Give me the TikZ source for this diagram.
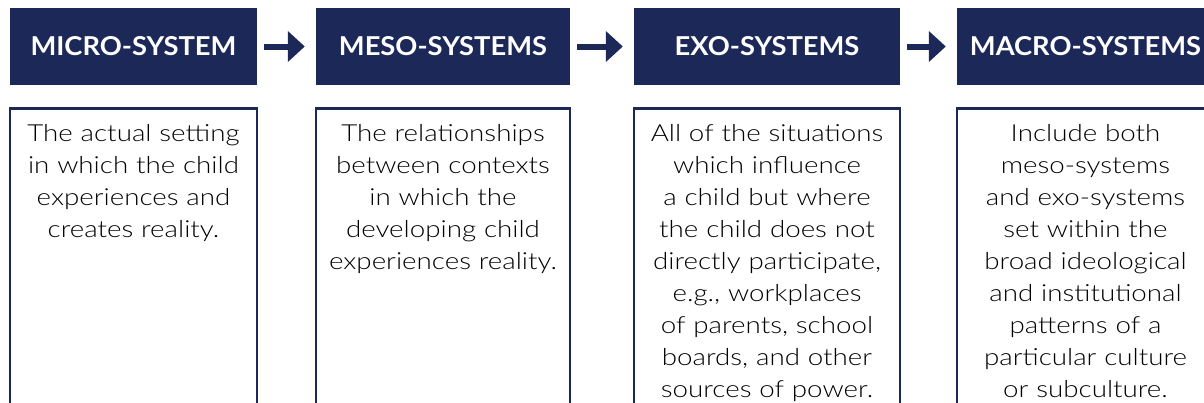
\documentclass[tikz,border=0pt]{standalone}
\usepackage{fontspec}
\setmainfont{Lato}[UprightFont=* Light,BoldFont=* Bold,FakeStretch=1.18]
\newfontfamily\headfont{Lato}[UprightFont=* Bold,FakeStretch=1.05]
\usepackage{tikz}
\usetikzlibrary{arrows.meta}
\definecolor{navy}{RGB}{28,40,88}

\begin{document}
\begin{tikzpicture}[x=1pt,y=1pt,
  head/.style={fill=navy,text=white,font=\headfont\fontsize{26}{30}\selectfont,minimum height=77pt,inner sep=0pt},
  body/.style={draw=navy,line width=2.5pt,anchor=north,align=center,inner xsep=6pt,inner ysep=16pt,text depth=330pt,font=\fontsize{23.5}{32}\selectfont},
  link/.style={draw=navy,line width=6pt,-{Triangle[width=30pt,length=17pt]},shorten <=7pt,shorten >=11pt}]
\useasboundingbox (0,0) rectangle (1204,-402);
\node[head,minimum width=247pt](micro) at (133.5,-46.5){MICRO-SYSTEM};
\node[head,minimum width=254pt](meso) at (443,-46.5){MESO-SYSTEMS};
\node[head,minimum width=266pt](exo) at (767,-46.5){EXO-SYSTEMS};
\node[head,minimum width=257pt](macro) at (1085.5,-46.5){MACRO-SYSTEMS};
\draw[link](micro)--(meso);
\draw[link](meso)--(exo);
\draw[link](exo)--(macro);
\node[body,text width=235pt](microtxt) at (133.5,-107){The actual setting\\in which the child\\experiences and\\creates reality.};
\node[body,text width=242pt](mesotxt) at (443,-107){The relationships\\between contexts\\in which the\\developing child\\experiences reality.};
\node[body,text width=254pt](exotxt) at (767,-107){All of the situations\\which influence\\a child but where\\the child does not\\directly participate,\\e.g., workplaces\\of parents, school\\boards, and other\\sources of power.};
\node[body,text width=245pt](macrotxt) at (1085.5,-107){Include both\\meso-systems\\and exo-systems\\set within the\\broad ideological\\and institutional\\patterns of a\\particular culture\\or subculture.};
\end{tikzpicture}
\end{document}
